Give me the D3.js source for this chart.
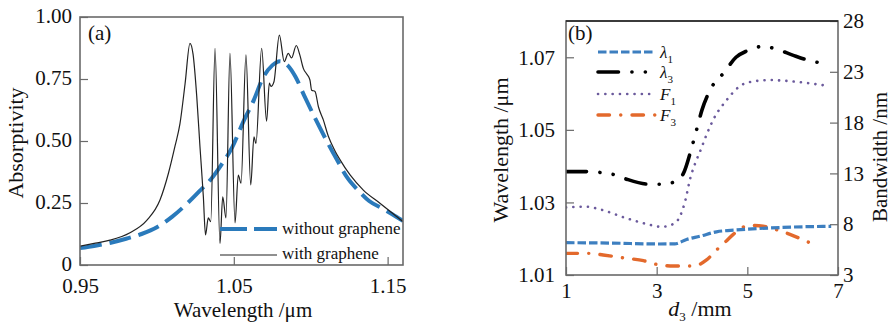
<!DOCTYPE html>
<html><head><meta charset="utf-8">
<script src="https://cdn.jsdelivr.net/npm/d3@7"></script>
<style>
body{margin:0;background:#fff}
svg{display:block}
text{font-family:'Liberation Serif','Times New Roman',serif;fill:#111}
</style>
</head><body>
<svg id="chart" width="893" height="327"></svg>
<script>
// ---------- Panel (a) data ----------
const aTicksX = [0.95, 1.05, 1.15];
const aTicksY = [0, 0.25, 0.5, 0.75, 1.0];
const aTickLabelsY = ["0", "0.25", "0.50", "0.75", "1.00"];

const wlWithout = [0.950,0.960,0.970,0.980,0.990,1.000,1.010,1.020,1.028,1.035,1.042,1.049,1.056,1.063,1.069,1.075,1.080,1.085,1.090,1.096,1.103,1.110,1.117,1.124,1.131,1.138,1.146,1.153,1.160];
const absWithout = [0.068,0.078,0.090,0.106,0.125,0.152,0.195,0.250,0.300,0.345,0.405,0.475,0.575,0.665,0.755,0.805,0.822,0.805,0.760,0.680,0.590,0.505,0.425,0.350,0.300,0.258,0.230,0.205,0.178];

const wlWith = [0.950,0.960,0.9695,0.9825,0.9934,1.002,1.0075,1.0118,1.015,1.0183,1.0215,1.0235,1.0259,1.028,1.0302,1.0316,1.0334,1.035,1.0378,1.041,1.0428,1.0449,1.0475,1.0508,1.0529,1.0547,1.0579,1.061,1.0631,1.0644,1.0681,1.0713,1.0731,1.0742,1.0761,1.0796,1.0828,1.0854,1.0876,1.0906,1.093,1.0952,1.0974,1.0995,1.1006,1.1028,1.105,1.1082,1.1114,1.1158,1.119,1.1256,1.1342,1.145,1.16];
const absWith = [0.076,0.088,0.100,0.130,0.180,0.262,0.370,0.480,0.570,0.730,0.894,0.850,0.680,0.477,0.275,0.121,0.190,0.175,0.874,0.087,0.275,0.190,0.853,0.170,0.363,0.330,0.847,0.323,0.517,0.490,0.874,0.580,0.733,0.720,0.739,0.927,0.820,0.853,0.835,0.885,0.845,0.793,0.770,0.746,0.705,0.700,0.638,0.585,0.520,0.460,0.425,0.363,0.302,0.249,0.175];

const aLegend = ["without graphene", "with graphene"];

// ---------- Panel (b) data ----------
const bTicksX = [1, 3, 5, 7];
const bTicksLeft = [1.01, 1.03, 1.05, 1.07];
const bTicksRight = [3, 8, 13, 18, 23, 28];

const dLambda1 = [1, 2, 3, 3.4, 3.66, 3.96, 4.32, 4.75, 5.25, 5.75, 6.25, 6.85];
const lambda1  = [1.0189,1.0188,1.01855,1.0186,1.0198,1.0207,1.0219,1.0224,1.0228,1.0231,1.0233,1.0234];

const dLambda3 = [1, 1.53, 1.79, 2.08, 2.34, 2.85, 3.11, 3.4, 3.59, 3.77, 3.88, 4.0, 4.18, 4.5, 4.75, 5.0, 5.35, 5.65, 6.0, 6.4, 6.7];
const lambda3  = [1.0385,1.0385,1.0382,1.0376,1.0364,1.0350,1.0350,1.0357,1.0380,1.0450,1.0500,1.0555,1.0610,1.0660,1.0700,1.0718,1.0730,1.0722,1.0706,1.0690,1.0683];

const dF1 = [1, 1.46, 1.75, 2.34, 2.78, 3.1, 3.37, 3.51, 3.63, 3.74, 3.85, 3.97, 4.1, 4.25, 4.54, 4.84, 5.13, 5.5, 5.87, 6.38, 6.75];
const F1  = [9.66,9.72,9.46,8.58,8.02,7.74,8.02,8.74,10.3,12.5,14.0,15.3,16.8,18.3,20.2,21.6,22.05,22.19,22.1,21.86,21.63];

const dF3 = [1, 1.53, 1.82, 2.34, 2.71, 3.07, 3.37, 3.81, 4.10, 4.32, 4.5, 4.69, 4.9, 5.06, 5.35, 5.65, 5.94, 6.31, 6.57];
const F3  = [5.13,5.13,4.97,4.64,4.41,3.98,3.89,3.89,4.48,5.46,6.2,7.0,7.7,7.88,7.8,7.45,7.0,6.3,5.8];

// ---------- drawing ----------
const svg = d3.select("#chart");
const frameColor = "#6a6a6a";
const zip = (xs, ys) => xs.map((x, i) => [x, ys[i]]);

// ===== Panel (a) =====
const xA = d3.scaleLinear().domain([0.95, 1.16]).range([80, 403]);
const yA = d3.scaleLinear().domain([0, 1]).range([265, 17]);

svg.append("defs").append("clipPath").attr("id", "clipA")
  .append("rect").attr("x", 80).attr("y", 17).attr("width", 323).attr("height", 248);

const lineA = d3.line().x(d => xA(d[0])).y(d => yA(d[1])).curve(d3.curveMonotoneX);
const gA = svg.append("g").attr("clip-path", "url(#clipA)");
gA.append("path").datum(zip(wlWithout, absWithout)).attr("d", lineA)
  .attr("fill", "none").attr("stroke", "#2a7abb").attr("stroke-width", 4)
  .attr("stroke-dasharray", "22,8");
gA.append("path").datum(zip(wlWith, absWith)).attr("d", lineA)
  .attr("fill", "none").attr("stroke", "#222").attr("stroke-width", 1.2);

// axes (a)
const axAy = d3.axisLeft(yA).tickValues(aTicksY).tickSizeInner(-8).tickSizeOuter(0).tickPadding(8)
  .tickFormat((d, i) => aTickLabelsY[i]);
const gAy = svg.append("g").attr("transform", "translate(80,0)").call(axAy);
const axAx = d3.axisBottom(xA).tickValues(aTicksX).tickSizeInner(-8).tickSizeOuter(0).tickPadding(13)
  .tickFormat(d3.format(".2f"));
const gAx = svg.append("g").attr("transform", "translate(0,265)").call(axAx);
[gAy, gAx].forEach(g => {
  g.select(".domain").remove();
  g.selectAll(".tick line").attr("stroke", frameColor).attr("stroke-width", 1.2);
  g.selectAll(".tick text").style("font-size", "21px").attr("fill", "#111");
});
gAy.selectAll(".tick text").attr("dy", "0.28em");
svg.append("rect").attr("x", 80).attr("y", 17).attr("width", 323).attr("height", 248)
  .attr("fill", "none").attr("stroke", frameColor).attr("stroke-width", 1.6);

svg.append("text").attr("x", 88).attr("y", 40).style("font-size", "21px").text("(a)");
svg.append("text").attr("transform", "translate(23,143) rotate(-90)").attr("text-anchor", "middle")
  .style("font-size", "22px").text("Absorptivity");
svg.append("text").attr("x", 243).attr("y", 317).attr("text-anchor", "middle")
  .style("font-size", "21px").text("Wavelength /\u03bcm");

// legend (a)
svg.append("line").attr("x1", 220).attr("x2", 277).attr("y1", 229).attr("y2", 229)
  .attr("stroke", "#2a7abb").attr("stroke-width", 4).attr("stroke-dasharray", "27,7");
svg.append("text").attr("x", 282).attr("y", 234).style("font-size", "17px").text(aLegend[0]);
svg.append("line").attr("x1", 220).attr("x2", 277).attr("y1", 255).attr("y2", 255)
  .attr("stroke", "#222").attr("stroke-width", 1.2);
svg.append("text").attr("x", 282).attr("y", 259).style("font-size", "17px").text(aLegend[1]);

// ===== Panel (b) =====
const xB = d3.scaleLinear().domain([1, 7]).range([566, 838]);
const yBL = d3.scaleLinear().domain([1.01, 1.08]).range([275, 21]);
const yBR = d3.scaleLinear().domain([3, 28]).range([275, 21]);

svg.select("defs").append("clipPath").attr("id", "clipB")
  .append("rect").attr("x", 566).attr("y", 21).attr("width", 272).attr("height", 254);
const gB = svg.append("g").attr("clip-path", "url(#clipB)");
const lineL = d3.line().x(d => xB(d[0])).y(d => yBL(d[1])).curve(d3.curveMonotoneX);
const lineR = d3.line().x(d => xB(d[0])).y(d => yBR(d[1])).curve(d3.curveMonotoneX);

const styles = {
  l1: {stroke: "#3d7fc0", w: 3.2, dash: "8.5,3", cap: "butt"},
  l3: {stroke: "#000", w: 3.6, dash: "20.5,13.4,0.1,13.3,0.1,13.5", cap: "round"},
  f1: {stroke: "#6b5a9c", w: 2.6, dash: "0.1,7.2", cap: "round"},
  f3: {stroke: "#e3692c", w: 3.4, dash: "11.5,11.2,0.1,11.2", cap: "round"}
};
function styled(sel, s) {
  return sel.attr("fill", "none").attr("stroke", s.stroke).attr("stroke-width", s.w)
    .attr("stroke-dasharray", s.dash).attr("stroke-linecap", s.cap);
}
styled(gB.append("path").datum(zip(dF3, F3)).attr("d", lineR), styles.f3);
styled(gB.append("path").datum(zip(dF1, F1)).attr("d", lineR), styles.f1);
styled(gB.append("path").datum(zip(dLambda1, lambda1)).attr("d", lineL), styles.l1);
styled(gB.append("path").datum(zip(dLambda3, lambda3)).attr("d", lineL), styles.l3);

const axBl = d3.axisLeft(yBL).tickValues(bTicksLeft).tickSizeInner(-8).tickSizeOuter(0).tickPadding(11)
  .tickFormat(d3.format(".2f"));
const gBl = svg.append("g").attr("transform", "translate(566,0)").call(axBl);
const axBr = d3.axisRight(yBR).tickValues(bTicksRight).tickSizeInner(-8).tickSizeOuter(0).tickPadding(5)
  .tickFormat(d3.format("d"));
const gBr = svg.append("g").attr("transform", "translate(838,0)").call(axBr);
const axBx = d3.axisBottom(xB).tickValues(bTicksX).tickSizeInner(-8).tickSizeOuter(0).tickPadding(8)
  .tickFormat(d3.format("d"));
const gBx = svg.append("g").attr("transform", "translate(0,275)").call(axBx);
[gBl, gBr, gBx].forEach(g => {
  g.select(".domain").remove();
  g.selectAll(".tick line").attr("stroke", frameColor).attr("stroke-width", 1.2);
  g.selectAll(".tick text").style("font-size", "21px").attr("fill", "#111");
});
svg.append("rect").attr("x", 566).attr("y", 21).attr("width", 272).attr("height", 254)
  .attr("fill", "none").attr("stroke", frameColor).attr("stroke-width", 1.6);
svg.append("line").attr("x1", 566).attr("x2", 838).attr("y1", 21).attr("y2", 21)
  .attr("stroke", "#222").attr("stroke-width", 1.6);

svg.append("text").attr("x", 568).attr("y", 40).style("font-size", "21px").text("(b)");
svg.append("text").attr("transform", "translate(508,150) rotate(-90)").attr("text-anchor", "middle")
  .style("font-size", "22px").text("Wavelength /\u03bcm");
svg.append("text").attr("transform", "translate(887,157) rotate(-90)").attr("text-anchor", "middle")
  .style("font-size", "21px").text("Bandwidth /nm");
const xl = svg.append("text").attr("x", 700).attr("y", 316).attr("text-anchor", "middle").style("font-size", "22px");
xl.append("tspan").style("font-style", "italic").text("d");
xl.append("tspan").attr("dy", 5).style("font-size", "13px").text("3");
xl.append("tspan").attr("dy", -5).text(" /mm");

// legend (b)
const legB = [
  {key: "l1", sym: "\u03bb", sub: "1", y: 52},
  {key: "l3", sym: "\u03bb", sub: "3", y: 72},
  {key: "f1", sym: "F", sub: "1", y: 94},
  {key: "f3", sym: "F", sub: "3", y: 115}
];
legB.forEach(e => {
  styled(svg.append("line").attr("x1", 598).attr("x2", 655).attr("y1", e.y).attr("y2", e.y), styles[e.key]);
  const t = svg.append("text").attr("x", 660).attr("y", e.y + 6).style("font-size", "17px");
  t.append("tspan").style("font-style", "italic").text(e.sym);
  t.append("tspan").attr("dy", 5).style("font-size", "11px").text(e.sub);
});
</script>
</body></html>
